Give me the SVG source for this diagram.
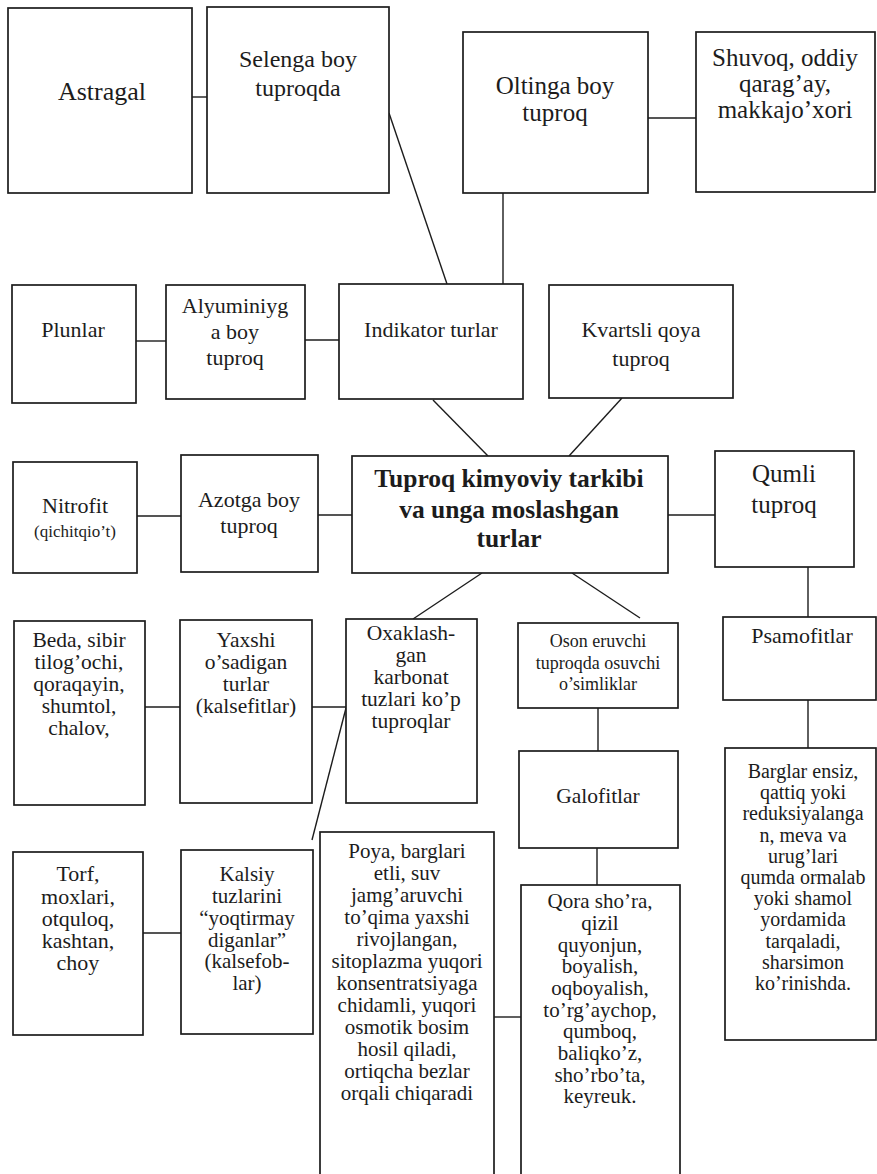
<svg xmlns="http://www.w3.org/2000/svg" width="877" height="1174" viewBox="0 0 877 1174">
  <style>
    .box { fill: #ffffff; stroke: #1c1c1c; stroke-width: 1.7; }
    .ln { stroke: #1c1c1c; stroke-width: 1.4; fill: none; }
    .lbl { fill: #1c1c1c; text-anchor: middle; font-family: 'Liberation Serif', serif; }
    .f26 { font-size: 26px; }
    .f25 { font-size: 25px; }
    .f24 { font-size: 24px; }
    .f22 { font-size: 22px; }
    .f21 { font-size: 21.5px; }
    .f21s { font-size: 21px; }
    .f20 { font-size: 20px; }
    .f18 { font-size: 18px; }
    .f17 { font-size: 17px; }
    .title { font-size: 25.5px; font-weight: bold; }
  </style>
  <rect width="877" height="1174" fill="#ffffff"/>

  <!-- connectors -->
  <g id="connectors">
    <line class="ln" x1="192" y1="97" x2="207" y2="97"/>
    <line class="ln" x1="389" y1="113" x2="447" y2="284"/>
    <line class="ln" x1="503" y1="193" x2="503" y2="284"/>
    <line class="ln" x1="648" y1="118" x2="696" y2="118"/>
    <line class="ln" x1="136" y1="341" x2="166" y2="341"/>
    <line class="ln" x1="305" y1="340" x2="339" y2="340"/>
    <line class="ln" x1="433" y1="400" x2="488" y2="456"/>
    <line class="ln" x1="622" y1="398" x2="569" y2="456"/>
    <line class="ln" x1="137" y1="516" x2="181" y2="516"/>
    <line class="ln" x1="318" y1="515" x2="352" y2="515"/>
    <line class="ln" x1="668" y1="515" x2="715" y2="515"/>
    <line class="ln" x1="482" y1="573" x2="413" y2="619"/>
    <line class="ln" x1="572" y1="573" x2="640" y2="618"/>
    <line class="ln" x1="808" y1="567" x2="808" y2="617"/>
    <line class="ln" x1="808" y1="700" x2="808" y2="748"/>
    <line class="ln" x1="145" y1="707" x2="180" y2="707"/>
    <line class="ln" x1="312" y1="707" x2="346" y2="707"/>
    <line class="ln" x1="346" y1="708" x2="312" y2="840"/>
    <line class="ln" x1="598" y1="708" x2="598" y2="751"/>
    <line class="ln" x1="597" y1="848" x2="597" y2="885"/>
    <line class="ln" x1="143" y1="933" x2="181" y2="933"/>
    <line class="ln" x1="494" y1="1017" x2="521" y2="1017"/>
  </g>

  <!-- top row -->
  <g id="astragal">
    <rect class="box" x="8" y="8" width="184" height="185"/>
    <text class="lbl f26" x="102" y="100">Astragal</text>
  </g>
  <g id="selenga">
    <rect class="box" x="207" y="7" width="182" height="186"/>
    <text class="lbl f24" x="298"><tspan x="298" y="67">Selenga boy</tspan><tspan x="298" y="96">tuproqda</tspan></text>
  </g>
  <g id="oltinga">
    <rect class="box" x="463" y="32" width="185" height="161"/>
    <text class="lbl f25" x="555"><tspan x="555" y="94">Oltinga boy</tspan><tspan x="555" y="121">tuproq</tspan></text>
  </g>
  <g id="shuvoq">
    <rect class="box" x="696" y="32" width="179" height="160"/>
    <text class="lbl f25" x="785"><tspan x="785" y="66">Shuvoq, oddiy</tspan><tspan x="785" y="92">qarag’ay,</tspan><tspan x="785" y="118">makkajo’xori</tspan></text>
  </g>

  <!-- second row -->
  <g id="plunlar">
    <rect class="box" x="12" y="285" width="124" height="118"/>
    <text class="lbl f22" x="73" y="337">Plunlar</text>
  </g>
  <g id="alyuminiy">
    <rect class="box" x="166" y="285" width="139" height="114"/>
    <text class="lbl f22" x="235"><tspan x="235" y="313">Alyuminiyg</tspan><tspan x="235" y="339">a boy</tspan><tspan x="235" y="365">tuproq</tspan></text>
  </g>
  <g id="indikator">
    <rect class="box" x="339" y="284" width="184" height="115"/>
    <text class="lbl f22" x="431" y="337">Indikator turlar</text>
  </g>
  <g id="kvartsli">
    <rect class="box" x="549" y="285" width="184" height="113"/>
    <text class="lbl f22" x="641"><tspan x="641" y="337">Kvartsli qoya</tspan><tspan x="641" y="366">tuproq</tspan></text>
  </g>

  <!-- central row -->
  <g id="nitrofit">
    <rect class="box" x="13" y="462" width="124" height="111"/>
    <text class="lbl f22" x="75" y="513">Nitrofit</text>
    <text class="lbl f17" x="75" y="537">(qichitqio’t)</text>
  </g>
  <g id="azotga">
    <rect class="box" x="181" y="455" width="137" height="117"/>
    <text class="lbl f22" x="249"><tspan x="249" y="507">Azotga boy</tspan><tspan x="249" y="533">tuproq</tspan></text>
  </g>
  <g id="tuproq">
    <rect class="box" x="352" y="456" width="316" height="117"/>
    <text class="lbl title" x="509"><tspan x="509" y="487">Tuproq kimyoviy tarkibi</tspan><tspan x="509" y="518">va unga moslashgan</tspan><tspan x="509" y="547">turlar</tspan></text>
  </g>
  <g id="qumli">
    <rect class="box" x="715" y="451" width="139" height="116"/>
    <text class="lbl f25" x="784"><tspan x="784" y="482">Qumli</tspan><tspan x="784" y="513">tuproq</tspan></text>
  </g>

  <!-- fourth row -->
  <g id="beda">
    <rect class="box" x="14" y="621" width="131" height="184"/>
    <text class="lbl f21" x="79"><tspan x="79" y="647">Beda, sibir</tspan><tspan x="79" y="669">tilog’ochi,</tspan><tspan x="79" y="691">qoraqayin,</tspan><tspan x="79" y="713">shumtol,</tspan><tspan x="79" y="735">chalov,</tspan></text>
  </g>
  <g id="yaxshi">
    <rect class="box" x="180" y="620" width="132" height="183"/>
    <text class="lbl f21" x="246"><tspan x="246" y="647">Yaxshi</tspan><tspan x="246" y="669">o’sadigan</tspan><tspan x="246" y="691">turlar</tspan><tspan x="246" y="713">(kalsefitlar)</tspan></text>
  </g>
  <g id="oxaklash">
    <rect class="box" x="346" y="619" width="131" height="184"/>
    <text class="lbl f21" x="411"><tspan x="411" y="640">Oxaklash-</tspan><tspan x="411" y="662">gan</tspan><tspan x="411" y="684">karbonat</tspan><tspan x="411" y="706">tuzlari ko’p</tspan><tspan x="411" y="728">tuproqlar</tspan></text>
  </g>
  <g id="oson">
    <rect class="box" x="518" y="623" width="160" height="85"/>
    <text class="lbl f18" x="598"><tspan x="598" y="647">Oson eruvchi</tspan><tspan x="598" y="669">tuproqda osuvchi</tspan><tspan x="598" y="690">o’simliklar</tspan></text>
  </g>
  <g id="psamofitlar">
    <rect class="box" x="723" y="617" width="153" height="83"/>
    <text class="lbl f22" x="802" y="643">Psamofitlar</text>
  </g>
  <g id="galofitlar">
    <rect class="box" x="519" y="751" width="159" height="97"/>
    <text class="lbl f21" x="598" y="803">Galofitlar</text>
  </g>
  <g id="barglar">
    <rect class="box" x="725" y="748" width="151" height="292"/>
    <text class="lbl f20" x="803"><tspan x="803" y="778">Barglar ensiz,</tspan><tspan x="803" y="799">qattiq yoki</tspan><tspan x="803" y="820">reduksiyalanga</tspan><tspan x="803" y="842">n, meva va</tspan><tspan x="803" y="863">urug’lari</tspan><tspan x="803" y="884">qumda ormalab</tspan><tspan x="803" y="905">yoki shamol</tspan><tspan x="803" y="926">yordamida</tspan><tspan x="803" y="948">tarqaladi,</tspan><tspan x="803" y="969">sharsimon</tspan><tspan x="803" y="990">ko’rinishda.</tspan></text>
  </g>

  <!-- bottom row -->
  <g id="torf">
    <rect class="box" x="13" y="852" width="130" height="183"/>
    <text class="lbl f22" x="78"><tspan x="78" y="881">Torf,</tspan><tspan x="78" y="904">moxlari,</tspan><tspan x="78" y="926">otquloq,</tspan><tspan x="78" y="948">kashtan,</tspan><tspan x="78" y="970">choy</tspan></text>
  </g>
  <g id="kalsiy">
    <rect class="box" x="181" y="850" width="132" height="184"/>
    <text class="lbl f21s" x="247"><tspan x="247" y="881">Kalsiy</tspan><tspan x="247" y="903">tuzlarini</tspan><tspan x="247" y="925">“yoqtirmay</tspan><tspan x="247" y="947">diganlar”</tspan><tspan x="247" y="968">(kalsefob-</tspan><tspan x="247" y="990">lar)</tspan></text>
  </g>
  <g id="poya">
    <rect class="box" x="320" y="832" width="174" height="400"/>
    <text class="lbl f21s" x="407"><tspan x="407" y="858">Poya, barglari</tspan><tspan x="407" y="880">etli, suv</tspan><tspan x="407" y="902">jamg’aruvchi</tspan><tspan x="407" y="924">to’qima yaxshi</tspan><tspan x="407" y="946">rivojlangan,</tspan><tspan x="407" y="968">sitoplazma yuqori</tspan><tspan x="407" y="990">konsentratsiyaga</tspan><tspan x="407" y="1012">chidamli, yuqori</tspan><tspan x="407" y="1034">osmotik bosim</tspan><tspan x="407" y="1056">hosil qiladi,</tspan><tspan x="407" y="1078">ortiqcha bezlar</tspan><tspan x="407" y="1100">orqali chiqaradi</tspan></text>
  </g>
  <g id="qora">
    <rect class="box" x="521" y="885" width="159" height="400"/>
    <text class="lbl f21s" x="600"><tspan x="600" y="908">Qora sho’ra,</tspan><tspan x="600" y="930">qizil</tspan><tspan x="600" y="952">quyonjun,</tspan><tspan x="600" y="973">boyalish,</tspan><tspan x="600" y="995">oqboyalish,</tspan><tspan x="600" y="1017">to’rg’aychop,</tspan><tspan x="600" y="1038">qumboq,</tspan><tspan x="600" y="1060">baliqko’z,</tspan><tspan x="600" y="1082">sho’rbo’ta,</tspan><tspan x="600" y="1103">keyreuk.</tspan></text>
  </g>
</svg>
